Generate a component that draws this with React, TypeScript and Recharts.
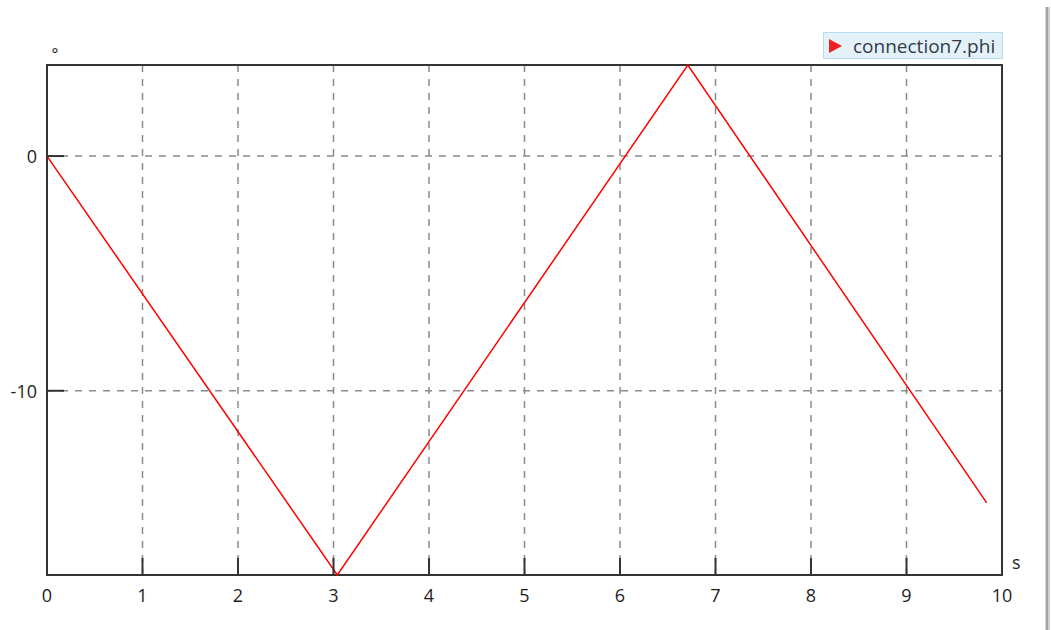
import React from "react";
import {
  CartesianGrid,
  Legend,
  Line,
  LineChart,
  ReferenceArea,
  XAxis,
  YAxis,
} from "recharts";

const times = [0, 3.04, 6.71, 9.84];
const phiValues = [0, -17.85, 3.88, -14.78];
const xTicks = [0, 1, 2, 3, 4, 5, 6, 7, 8, 9, 10];
const yTicks = [-10, 0];
const xDomain: [number, number] = [0, 10];
const yDomain: [number, number] = [-17.85, 3.88];
const seriesName = "connection7.phi";
const xUnit = "s";
const yUnit = "°";

const data = times.map((t, i) => ({ t, phi: phiValues[i] }));

const FONT = "'Open Sans', 'DejaVu Sans', sans-serif";
const TEXT = "#1e1e1e";
const FRAME = "#333333";
const TICK_LEN = 17;

function XTick({ x, y, payload }: any) {
  const axisY = y - 20;
  return (
    <g>
      <line x1={x} x2={x} y1={axisY} y2={axisY - TICK_LEN} stroke={FRAME} strokeWidth={2} />
      <text x={x} y={y} textAnchor="middle" dominantBaseline="central" fill={TEXT} fontSize={18} fontFamily={FONT}>
        {payload.value}
      </text>
    </g>
  );
}

function YTick({ x, y, payload }: any) {
  const axisX = x + 10;
  return (
    <g>
      <line x1={axisX} x2={axisX + TICK_LEN} y1={y} y2={y} stroke={FRAME} strokeWidth={2} />
      <text x={x} y={y} textAnchor="end" dominantBaseline="central" fill={TEXT} fontSize={18} fontFamily={FONT}>
        {payload.value}
      </text>
    </g>
  );
}

function LegendBox() {
  return (
    <div
      style={{
        display: "flex",
        alignItems: "center",
        height: 25,
        width: 178,
        boxSizing: "content-box",
        background: "#e3f1f8",
        border: "1px solid #b7dcec",
        fontFamily: FONT,
        fontSize: 19,
        color: "#343a48",
        whiteSpace: "nowrap",
      }}
    >
      <svg width={13} height={14} style={{ marginLeft: 5, marginRight: 11 }}>
        <polygon points="0,0 13,7 0,14" fill="#ee2222" />
      </svg>
      <span>{seriesName}</span>
    </div>
  );
}

export default function App() {
  return (
    <div style={{ position: "relative", width: 1035, height: 614 }}>
      <LineChart
        width={1035}
        height={614}
        data={data}
        margin={{ top: 57, right: 41, left: 0, bottom: 17 }}
      >
        <CartesianGrid
          stroke="#8a8a8a"
          strokeDasharray="7 7"
          strokeWidth={1.5}
          horizontalValues={yTicks}
          verticalValues={xTicks}
        />
        <XAxis
          type="number"
          dataKey="t"
          domain={xDomain}
          ticks={xTicks}
          interval={0}
          height={30}
          axisLine={false}
          tickLine={false}
          tickSize={0}
          tickMargin={20}
          tick={<XTick />}
          label={{
            content: (props: any) => {
              const vb = props.viewBox;
              return (
                <text x={vb.x + vb.width + 10} y={vb.y - 6} fill={TEXT} fontSize={18} fontFamily={FONT}>
                  {xUnit}
                </text>
              );
            },
          }}
        />
        <YAxis
          type="number"
          domain={yDomain}
          ticks={yTicks}
          interval={0}
          width={39}
          axisLine={false}
          tickLine={false}
          tickSize={0}
          tickMargin={10}
          tick={<YTick />}
          label={{
            content: (props: any) => {
              const vb = props.viewBox;
              return (
                <text x={vb.x + vb.width + 8} y={vb.y - 5} textAnchor="middle" fill={TEXT} fontSize={16} fontFamily={FONT}>
                  {yUnit}
                </text>
              );
            },
          }}
        />
        <ReferenceArea
          x1={xDomain[0]}
          x2={xDomain[1]}
          y1={yDomain[0]}
          y2={yDomain[1]}
          fill="none"
          fillOpacity={0}
          stroke={FRAME}
          strokeWidth={2}
        />
        <Line
          dataKey="phi"
          name={seriesName}
          type="linear"
          stroke="#ff0000"
          strokeWidth={1.5}
          dot={false}
          activeDot={false}
          isAnimationActive={false}
        />
        <Legend
          layout="horizontal"
          verticalAlign="middle"
          align="center"
          content={() => <LegendBox />}
          wrapperStyle={{ position: "absolute", top: 24, left: 815, width: 180, height: 27 }}
        />
      </LineChart>
      <div
        style={{
          position: "fixed",
          left: 1045,
          top: 7,
          width: 5,
          height: 623,
          zIndex: 10,
          display: "flex",
        }}
      >
        <div style={{ width: 1, background: "#d8d8d8" }} />
        <div style={{ width: 2, background: "#9ea3a8" }} />
        <div style={{ width: 2, background: "#d0d0d0" }} />
      </div>
    </div>
  );
}
